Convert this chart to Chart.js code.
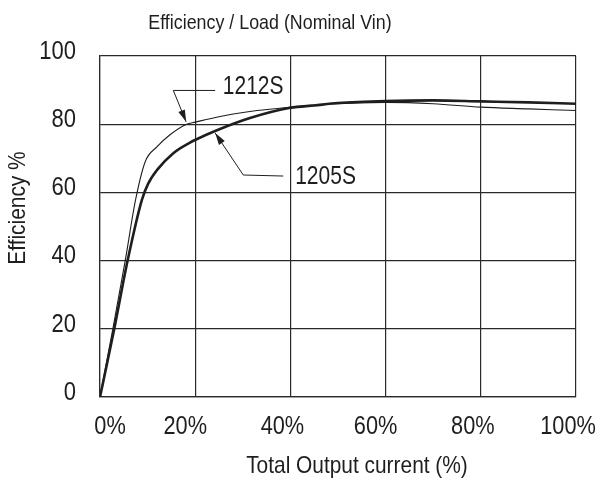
<!DOCTYPE html>
<html>
<head>
<meta charset="utf-8">
<script src="https://cdn.jsdelivr.net/npm/chart.js@4"></script>
<style>
  html, body { margin: 0; padding: 0; background: #fff; }
  #wrap { width: 597px; height: 479px; }
</style>
</head>
<body>
<div id="wrap"><canvas id="effChart" width="597" height="479"></canvas></div>
<script>
  const FONT = "'Liberation Sans', Arial, sans-serif";
  const INK = "#1e1e1e";

  const chartTitle = "Efficiency / Load (Nominal Vin)";
  const xTitle = "Total Output current (%)";
  const yTitle = "Efficiency %";

  const xTicks = [0, 20, 40, 60, 80, 100];
  const yTicks = [0, 20, 40, 60, 80, 100];

  // 1212S (thin line)
  const load1212 = [0, 2.7, 5.3, 7.5, 9.5, 12, 14.7, 18.2, 20, 25, 28, 33, 40, 45, 50, 60, 70, 80, 90, 100];
  const eff1212 = [0, 20, 40, 58, 69, 73.4, 76.9, 80.0, 80.6, 82.2, 83.0, 84.0, 85.0, 85.6, 86.0, 86.4, 86.0, 85.0, 84.5, 84.0];

  // 1205S (thick line)
  const load1205 = [0, 3, 5.8, 8.8, 10.1, 12, 15.4, 18.9, 20.3, 24.7, 31.5, 40, 45, 50, 60, 70, 80, 90, 100];
  const eff1205 = [0, 20, 40, 57.8, 62.5, 66.6, 71.5, 74.6, 75.6, 78.3, 81.8, 84.8, 85.5, 86.2, 86.8, 87.0, 86.7, 86.4, 86.0];

  // callouts: arrow tip, elbow, end of leader, label (data units)
  const callouts = [
    { text: "1212S", tip: [18.1, 80.7], elbow: [15.4, 89.9], end: [24.2, 89.9], label: [25.8, 91.0] },
    { text: "1205S", tip: [24.2, 77.4], elbow: [30.1, 65.1], end: [38.5, 64.8], label: [41.0, 64.4] }
  ];

  function toPoints(xs, ys) {
    return xs.map((x, i) => ({ x: x, y: ys[i] }));
  }

  // the original uses a condensed face, so squeeze the text a bit
  function narrowText(ctx, text, x, y, squeeze, rot) {
    ctx.save();
    ctx.translate(x, y);
    if (rot) ctx.rotate(rot);
    ctx.scale(squeeze, 1);
    ctx.fillText(text, 0, 0);
    ctx.restore();
  }

  function drawArrow(ctx, x1, y1, x2, y2) {
    const ang = Math.atan2(y2 - y1, x2 - x1);
    const len = 12;
    const half = 3.5;
    ctx.beginPath();
    ctx.moveTo(x2, y2);
    ctx.lineTo(x2 - len * Math.cos(ang) + half * Math.sin(ang), y2 - len * Math.sin(ang) - half * Math.cos(ang));
    ctx.lineTo(x2 - len * Math.cos(ang) - half * Math.sin(ang), y2 - len * Math.sin(ang) + half * Math.cos(ang));
    ctx.closePath();
    ctx.fill();
  }

  const textPlugin = {
    id: "textPlugin",
    afterDraw(chart) {
      const ctx = chart.ctx;
      const xs = chart.scales.x;
      const ys = chart.scales.y;
      ctx.save();
      ctx.fillStyle = INK;
      ctx.strokeStyle = INK;
      ctx.textBaseline = "middle";

      // title
      ctx.font = "21px " + FONT;
      ctx.textAlign = "center";
      narrowText(ctx, chartTitle, 270, 23, 0.85);

      // x tick labels (shifted like the original)
      ctx.font = "25px " + FONT;
      const shift = [10, -10, -8, -10, -8, -8];
      xTicks.forEach((v, i) => {
        narrowText(ctx, v + "%", xs.getPixelForValue(v) + shift[i], 427, 0.87);
      });

      // y tick labels
      ctx.textAlign = "right";
      yTicks.forEach((v) => {
        narrowText(ctx, String(v), 76, ys.getPixelForValue(v) - 4, 0.88);
      });

      // axis titles
      ctx.textAlign = "center";
      ctx.font = "24px " + FONT;
      narrowText(ctx, xTitle, 357, 466, 0.87);
      narrowText(ctx, yTitle, 18, 208, 0.87, -Math.PI / 2);

      // callouts
      ctx.lineWidth = 1;
      ctx.font = "25px " + FONT;
      ctx.textAlign = "left";
      callouts.forEach((c) => {
        const tx = xs.getPixelForValue(c.tip[0]), ty = ys.getPixelForValue(c.tip[1]);
        const ex = xs.getPixelForValue(c.elbow[0]), ey = ys.getPixelForValue(c.elbow[1]);
        const nx = xs.getPixelForValue(c.end[0]), ny = ys.getPixelForValue(c.end[1]);
        ctx.beginPath();
        ctx.moveTo(nx, ny);
        ctx.lineTo(ex, ey);
        ctx.lineTo(tx, ty);
        ctx.stroke();
        drawArrow(ctx, ex, ey, tx, ty);
        narrowText(ctx, c.text, xs.getPixelForValue(c.label[0]), ys.getPixelForValue(c.label[1]), 0.84);
      });
      ctx.restore();
    }
  };

  const gridStyle = {
    color: "#2a2a2a",
    lineWidth: 1.2,
    drawTicks: false
  };

  new Chart(document.getElementById("effChart"), {
    type: "scatter",
    data: {
      datasets: [
        {
          label: "1205S",
          data: toPoints(load1205, eff1205),
          showLine: true,
          borderColor: INK,
          borderWidth: 2.6,
          pointRadius: 0,
          cubicInterpolationMode: "monotone"
        },
        {
          label: "1212S",
          data: toPoints(load1212, eff1212),
          showLine: true,
          borderColor: INK,
          borderWidth: 1.1,
          pointRadius: 0,
          cubicInterpolationMode: "monotone"
        }
      ]
    },
    options: {
      responsive: false,
      animation: false,
      layout: { padding: { top: 56, right: 21, bottom: 0, left: 0 } },
      plugins: {
        legend: { display: false },
        tooltip: { enabled: false }
      },
      scales: {
        x: {
          type: "linear",
          min: 0,
          max: 100,
          afterBuildTicks: (scale) => { scale.ticks = xTicks.map((v) => ({ value: v })); },
          afterFit: (scale) => { scale.height = 82; },
          ticks: { display: false },
          grid: gridStyle,
          border: { color: "#2a2a2a", width: 1.2 }
        },
        y: {
          min: 0,
          max: 100,
          afterBuildTicks: (scale) => { scale.ticks = yTicks.map((v) => ({ value: v })); },
          afterFit: (scale) => { scale.width = 100; },
          ticks: { display: false },
          grid: gridStyle,
          border: { color: "#2a2a2a", width: 1.2 }
        }
      }
    },
    plugins: [textPlugin]
  });
</script>
</body>
</html>
